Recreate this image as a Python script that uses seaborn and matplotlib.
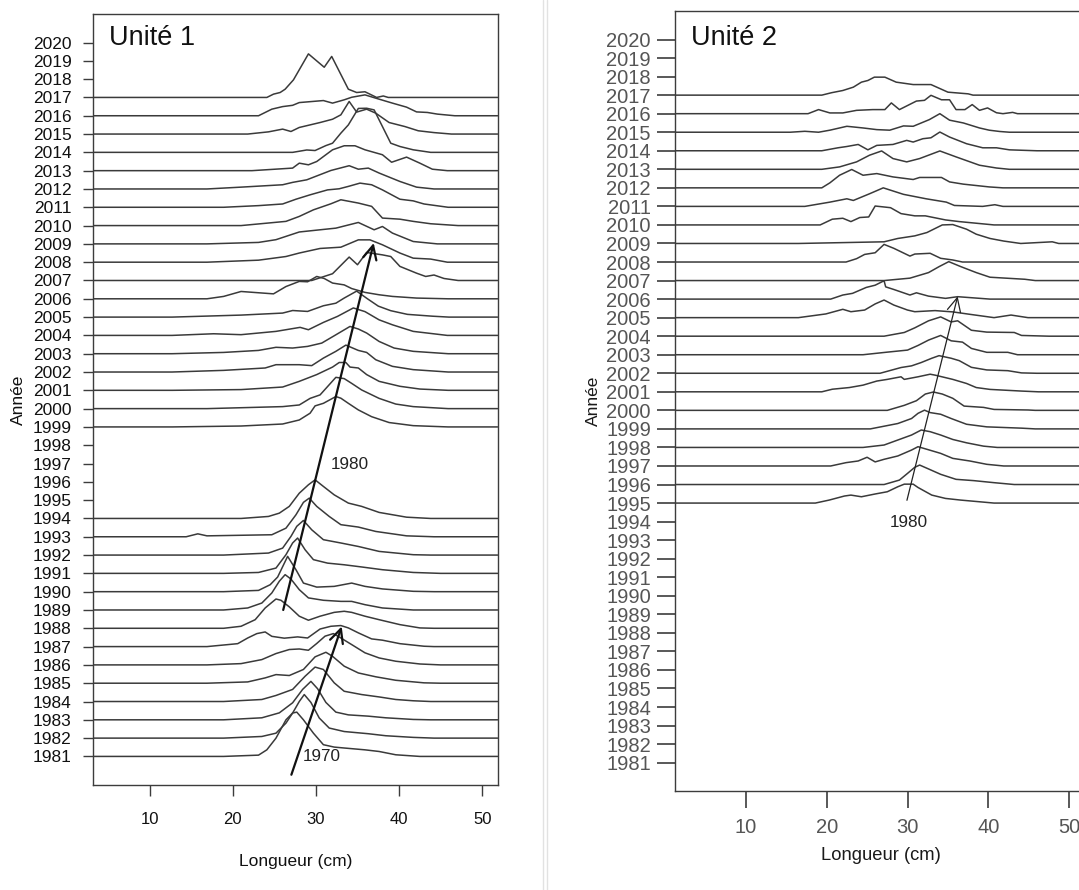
import pandas as pd
import seaborn as sns
import matplotlib.pyplot as plt
from matplotlib.lines import Line2D

# Years with a length distribution
ANNEES_U1 = list(range(1981, 1995)) + list(range(1999, 2018))
ANNEES_U2 = list(range(1995, 2018))
ANNEES_AXE = list(range(1981, 2021))
LONGUEURS_TICKS = [10, 20, 30, 40, 50]

# Unité 1 curves: (longueur cm, hauteur in year units)
U1_1981 = [(18.9, 0), (23.1, 0.07), (24.1, 0.36), (25.2, 1.0), (26.4, 2.0), (27.2, 2.37), (27.7, 2.42), (28.5, 2.0), (29.7, 1.27), (30.9, 0.64), (32.2, 0.51), (33.4, 0.46), (35.9, 0.36), (37.6, 0.27), (39.6, 0.09), (42.5, 0)]
U1_1982 = [(18.9, 0), (23.5, 0.09), (25.2, 0.27), (26.4, 0.82), (27.2, 1.37), (28.0, 2.0), (28.6, 2.38), (29.4, 1.95), (30.4, 1.1), (31.6, 0.55), (33.4, 0.36), (36.3, 0.24), (38.4, 0.13), (41.7, 0.04), (44.2, 0)]
U1_1983 = [(18.9, 0), (23.5, 0.11), (25.6, 0.38), (27.2, 0.93), (28.4, 1.66), (29.4, 2.1), (30.2, 1.7), (31.2, 0.95), (32.4, 0.42), (33.9, 0.27), (36.3, 0.2), (38.4, 0.11), (41.7, 0.02), (43.8, 0)]
U1_1984 = [(18.9, 0), (23.5, 0.11), (25.2, 0.33), (27.2, 0.66), (28.7, 1.38), (29.9, 1.88), (30.9, 1.75), (32.2, 1.02), (33.4, 0.56), (35.5, 0.38), (37.6, 0.25), (39.6, 0.11), (41.7, 0.04), (43.8, 0)]
U1_1985 = [(16.9, 0), (21.8, 0.07), (23.9, 0.29), (25.2, 0.47), (26.8, 0.42), (28.5, 0.75), (29.9, 1.44), (31.2, 1.69), (32.0, 1.47), (33.4, 0.93), (35.1, 0.56), (37.2, 0.35), (39.6, 0.16), (43.0, 0.02), (45.0, 0)]
U1_1986 = [(16.9, 0), (21.0, 0.07), (23.5, 0.29), (25.2, 0.62), (26.8, 0.84), (28.0, 0.87), (29.1, 0.8), (30.1, 1.17), (31.1, 1.57), (32.1, 1.71), (33.0, 1.47), (34.3, 1.11), (35.9, 0.66), (37.6, 0.38), (39.6, 0.2), (42.5, 0.05), (45.0, 0)]
U1_1987 = [(16.9, 0), (20.6, 0.16), (21.8, 0.47), (22.9, 0.71), (23.9, 0.8), (24.7, 0.56), (26.2, 0.46), (27.8, 0.53), (29.0, 0.47), (30.5, 0.96), (31.8, 1.11), (33.0, 1.15), (33.9, 1.02), (35.1, 0.75), (36.7, 0.42), (38.0, 0.35), (40.1, 0.16), (43.0, 0.02), (44.2, 0)]
U1_1988 = [(18.9, 0), (21.0, 0.11), (22.7, 0.47), (23.9, 1.11), (25.2, 1.6), (25.8, 1.53), (26.8, 1.17), (28.0, 0.66), (29.1, 0.44), (30.5, 0.66), (32.2, 0.87), (33.4, 0.93), (34.3, 0.87), (35.9, 0.66), (37.6, 0.47), (40.1, 0.2), (42.5, 0.02), (44.2, 0)]
U1_1989 = [(18.9, 0), (21.8, 0.11), (23.5, 0.38), (24.7, 0.93), (25.6, 1.57), (26.3, 1.93), (27.0, 1.69), (28.0, 1.11), (29.1, 0.66), (30.9, 0.53), (33.0, 0.47), (34.3, 0.47), (35.9, 0.29), (38.0, 0.11), (41.7, 0)]
U1_1990 = [(18.9, 0), (23.1, 0.07), (24.5, 0.38), (25.4, 0.8), (26.6, 1.93), (27.6, 1.2), (28.5, 0.47), (30.1, 0.25), (32.2, 0.29), (34.3, 0.47), (35.9, 0.29), (38.0, 0.15), (41.7, 0.02), (44.2, 0)]
U1_1991 = [(18.9, 0), (23.1, 0.05), (25.2, 0.29), (26.4, 1.02), (27.2, 1.66), (27.8, 1.93), (28.7, 1.29), (29.7, 0.75), (31.4, 0.56), (33.4, 0.47), (35.5, 0.35), (38.0, 0.2), (41.7, 0.05), (45.0, 0)]
U1_1992 = [(18.9, 0), (24.3, 0.11), (26.0, 0.38), (27.0, 1.02), (27.7, 1.57), (28.5, 1.89), (29.5, 1.38), (30.9, 0.84), (33.0, 0.66), (35.1, 0.47), (37.6, 0.2), (41.7, 0.02), (43.8, 0)]
U1_1993 = [(14.4, 0), (15.8, 0.16), (16.9, 0.05), (24.7, 0.11), (26.4, 0.47), (27.6, 1.2), (28.5, 1.88), (29.2, 2.11), (30.1, 1.66), (31.6, 1.11), (33.0, 0.66), (35.1, 0.53), (37.2, 0.29), (40.9, 0.05), (44.2, 0)]
U1_1994 = [(21.0, 0), (24.3, 0.11), (25.6, 0.29), (26.8, 0.66), (28.0, 1.38), (29.1, 1.84), (29.9, 2.11), (30.9, 1.75), (32.2, 1.29), (33.9, 0.84), (35.5, 0.66), (37.6, 0.33), (40.9, 0.07), (43.8, 0)]
U1_1999 = [(12.7, 0), (21.0, 0.05), (26.0, 0.16), (28.0, 0.38), (29.3, 0.75), (29.9, 1.15), (30.9, 1.29), (32.4, 1.66), (33.0, 1.57), (33.9, 1.29), (35.1, 0.93), (36.7, 0.56), (38.8, 0.24), (41.7, 0.07), (45.9, 0)]
U1_2000 = [(16.9, 0), (26.0, 0.11), (28.0, 0.2), (29.3, 0.56), (30.5, 0.75), (32.4, 1.71), (33.4, 1.64), (34.3, 1.38), (35.5, 1.02), (37.6, 0.56), (39.6, 0.25), (41.7, 0.11), (45.9, 0)]
U1_2001 = [(12.7, 0), (21.0, 0.04), (26.0, 0.18), (28.0, 0.49), (30.1, 0.86), (32.0, 1.27), (32.8, 1.52), (33.6, 1.52), (34.1, 1.27), (35.1, 1.22), (36.1, 0.86), (37.6, 0.49), (40.1, 0.22), (42.5, 0.07), (45.9, 0)]
U1_2002 = [(12.7, 0), (18.9, 0.09), (23.9, 0.22), (25.2, 0.4), (28.0, 0.4), (29.5, 0.35), (30.9, 0.76), (32.4, 1.13), (33.6, 1.47), (35.1, 1.18), (36.1, 1.07), (37.2, 0.67), (39.2, 0.31), (41.7, 0.13), (45.9, 0)]
U1_2003 = [(12.7, 0), (18.9, 0.07), (23.1, 0.18), (25.2, 0.35), (27.2, 0.31), (29.0, 0.4), (30.7, 0.58), (32.2, 0.98), (34.1, 1.49), (35.1, 1.35), (36.1, 1.13), (37.6, 0.67), (39.4, 0.31), (41.7, 0.13), (45.9, 0)]
U1_2004 = [(12.7, 0), (17.7, 0.09), (21.0, 0.04), (25.2, 0.22), (28.1, 0.44), (29.1, 0.31), (30.9, 0.71), (32.6, 1.04), (34.5, 1.5), (35.9, 1.3), (37.6, 0.85), (39.2, 0.58), (41.7, 0.22), (45.8, 0)]
U1_2005 = [(12.7, 0), (21.0, 0.11), (26.0, 0.22), (27.2, 0.36), (29.0, 0.31), (30.9, 0.62), (32.4, 0.76), (33.4, 1.04), (34.9, 1.42), (36.2, 1.0), (37.5, 0.6), (39.0, 0.35), (41.0, 0.15), (44.0, 0.05), (46.0, 0)]
U1_2006 = [(16.9, 0), (18.9, 0.13), (21.0, 0.4), (24.9, 0.27), (26.4, 0.67), (28.0, 0.95), (29.0, 0.93), (30.1, 1.22), (31.0, 1.11), (32.0, 0.86), (33.4, 0.76), (34.3, 0.56), (35.9, 0.35), (37.6, 0.22), (39.2, 0.13), (42.1, 0.04), (45.9, 0)]
U1_2007 = [(29.5, 0), (32.0, 0.37), (34.0, 1.28), (35.0, 0.86), (36.1, 1.53), (38.0, 1.4), (39.0, 1.31), (40.1, 0.77), (42.1, 0.4), (43.2, 0.22), (44.2, 0.3), (45.4, 0.11), (47.1, 0)]
U1_2008 = [(16.9, 0), (23.1, 0.11), (26.4, 0.31), (28.0, 0.5), (30.5, 0.75), (33.0, 0.82), (35.1, 1.22), (36.5, 1.22), (38.0, 0.95), (40.1, 0.5), (41.7, 0.22), (43.8, 0.17), (45.8, 0)]
U1_2009 = [(16.9, 0), (23.1, 0.08), (25.2, 0.23), (26.4, 0.41), (28.0, 0.65), (30.5, 0.77), (32.4, 0.86), (35.1, 1.17), (37.0, 0.77), (38.0, 0.95), (39.2, 0.59), (41.7, 0.13), (44.6, 0)]
U1_2010 = [(21.0, 0), (26.4, 0.23), (28.0, 0.5), (29.7, 0.86), (31.8, 1.19), (33.0, 1.41), (35.1, 1.23), (36.7, 1.05), (38.0, 0.41), (40.1, 0.35), (41.7, 0.23), (43.8, 0.1), (47.1, 0)]
U1_2011 = [(18.9, 0), (23.1, 0.09), (26.0, 0.18), (27.6, 0.44), (29.3, 0.68), (31.4, 0.95), (32.8, 1.01), (33.9, 1.14), (35.3, 1.32), (36.7, 1.23), (38.0, 0.95), (40.1, 0.44), (41.7, 0.35), (43.0, 0.18), (45.9, 0)]
U1_2012 = [(16.9, 0), (21.0, 0.1), (26.0, 0.23), (27.2, 0.36), (28.9, 0.5), (31.8, 1.01), (34.0, 1.27), (35.1, 1.08), (36.3, 1.14), (37.6, 0.87), (40.1, 0.41), (42.1, 0.1), (44.2, 0)]
U1_2013 = [(22.3, 0), (27.2, 0.14), (28.0, 0.41), (29.1, 0.32), (30.1, 0.5), (32.0, 1.14), (33.4, 1.36), (34.7, 1.36), (35.9, 1.14), (38.0, 0.87), (39.1, 0.46), (40.9, 0.74), (42.5, 0.41), (44.0, 0.08), (45.8, 0)]
U1_2014 = [(27.2, 0), (28.9, 0.13), (29.9, 0.1), (31.2, 0.37), (32.0, 0.5), (33.0, 1.05), (33.9, 1.5), (35.1, 2.4), (36.1, 2.41), (37.0, 2.32), (39.0, 0.5), (40.1, 0.32), (41.7, 0.14), (43.8, 0)]
U1_2015 = [(21.8, 0), (24.3, 0.12), (26.0, 0.27), (27.0, 0.14), (28.0, 0.36), (30.5, 0.63), (32.0, 0.81), (33.0, 1.05), (34.0, 1.78), (34.9, 1.2), (36.1, 1.36), (37.2, 1.14), (38.8, 0.63), (40.7, 0.41), (42.3, 0.18), (44.2, 0.08), (46.3, 0)]
U1_2016 = [(23.1, 0), (24.7, 0.36), (26.0, 0.5), (27.2, 0.57), (28.0, 0.72), (30.9, 0.83), (32.0, 0.69), (33.4, 0.87), (34.3, 1.01), (35.9, 1.14), (37.2, 0.96), (39.2, 0.69), (40.9, 0.47), (42.1, 0.21), (43.4, 0.18), (44.6, 0.09), (46.7, 0)]
U1_2017 = [(24.1, 0), (24.9, 0.18), (25.7, 0.27), (26.3, 0.45), (27.3, 0.96), (29.1, 2.38), (31.0, 1.65), (31.9, 2.24), (33.9, 0.45), (34.9, 0.27), (35.9, 0.31), (37.3, 0), (38.1, 0.08), (38.7, 0)]

# Unité 2 curves
U2_1995 = [(18.6, 0), (20.3, 0.16), (22.2, 0.38), (23.0, 0.43), (24.3, 0.34), (26.0, 0.49), (27.5, 0.61), (28.8, 0.88), (29.6, 1.02), (30.7, 1.02), (31.3, 0.84), (33.0, 0.43), (34.7, 0.25), (36.6, 0.16), (40.7, 0)]
U2_1996 = [(27.1, 0), (29.0, 0.24), (30.0, 0.6), (30.9, 0.93), (31.5, 1.05), (32.6, 0.84), (34.1, 0.55), (36.0, 0.28), (38.2, 0.21), (40.7, 0.1), (43.2, 0)]
U2_1997 = [(20.5, 0), (22.4, 0.18), (23.9, 0.27), (25.0, 0.47), (26.0, 0.22), (27.1, 0.36), (28.8, 0.54), (30.5, 0.86), (31.3, 1.04), (32.4, 0.9), (34.1, 0.68), (35.6, 0.41), (37.7, 0.27), (39.8, 0.09), (41.9, 0)]
U2_1998 = [(24.5, 0), (27.1, 0.13), (28.8, 0.4), (30.5, 0.67), (31.7, 0.94), (32.8, 0.85), (34.1, 0.67), (35.6, 0.43), (37.3, 0.25), (39.4, 0.07), (41.1, 0)]
U2_1999 = [(25.4, 0), (28.8, 0.29), (30.5, 0.56), (31.3, 0.84), (32.1, 1.01), (32.8, 0.88), (34.1, 0.79), (35.4, 0.56), (37.3, 0.25), (39.8, 0.11), (44.1, 0.04), (45.8, 0)]
U2_2000 = [(27.5, 0), (29.6, 0.27), (31.1, 0.52), (32.2, 0.88), (33.2, 0.99), (34.3, 0.88), (35.6, 0.65), (37.0, 0.23), (39.4, 0.16), (40.7, 0.05), (44.9, 0.02), (45.8, 0)]
U2_2001 = [(19.4, 0), (20.7, 0.14), (22.8, 0.23), (24.5, 0.36), (26.2, 0.58), (27.5, 0.67), (29.2, 0.81), (29.6, 0.67), (31.3, 0.81), (32.8, 0.95), (33.4, 0.9), (35.6, 0.67), (37.3, 0.45), (38.5, 0.23), (40.2, 0.13), (44.1, 0.04), (46.2, 0)]
U2_2002 = [(26.6, 0), (29.2, 0.31), (30.5, 0.4), (31.7, 0.58), (33.0, 0.81), (33.9, 0.95), (35.4, 0.81), (36.4, 0.68), (37.9, 0.32), (39.8, 0.18), (42.4, 0.14), (44.1, 0.02), (46.0, 0)]
U2_2003 = [(24.5, 0), (27.5, 0.14), (30.0, 0.25), (31.3, 0.5), (32.6, 0.79), (34.1, 1.04), (35.4, 0.75), (36.8, 0.68), (37.9, 0.34), (39.8, 0.13), (42.4, 0.13), (43.6, 0)]
U2_2004 = [(27.1, 0), (29.6, 0.2), (30.9, 0.45), (32.6, 0.83), (34.1, 1.04), (35.4, 0.77), (36.2, 0.83), (37.9, 0.32), (39.8, 0.22), (43.2, 0.2), (44.1, 0.04), (47.5, 0)]
U2_2005 = [(16.5, 0), (19.9, 0.2), (22.0, 0.45), (23.0, 0.32), (24.7, 0.41), (26.0, 0.74), (27.1, 0.95), (28.3, 0.68), (30.0, 0.41), (30.9, 0.32), (33.4, 0.38), (35.6, 0.31), (37.7, 0.18), (40.7, 0), (42.8, 0.14), (44.9, 0)]
U2_2006 = [(20.5, 0), (22.0, 0.22), (23.2, 0.31), (24.9, 0.63), (26.0, 0.75), (27.1, 0.99), (27.3, 0.66), (28.3, 0.52), (30.3, 0.22), (31.1, 0.34), (32.6, 0.16), (34.7, 0.04), (36.2, 0.13), (40.2, 0)]
U2_2007 = [(27.1, 0), (30.3, 0.13), (32.6, 0.43), (33.9, 0.75), (35.1, 1.02), (36.6, 0.75), (38.5, 0.43), (40.2, 0.18), (44.5, 0.07), (45.8, 0)]
U2_2008 = [(22.4, 0), (23.7, 0.18), (24.7, 0.41), (26.0, 0.5), (27.1, 0.95), (28.3, 0.74), (30.3, 0.32), (30.9, 0.43), (32.8, 0.47), (34.1, 0.2), (35.6, 0.11), (36.8, 0)]
U2_2009 = [(16.5, 0), (27.1, 0.09), (28.8, 0.27), (30.9, 0.41), (32.4, 0.59), (34.3, 1.0), (35.6, 1.02), (37.3, 0.77), (38.5, 0.5), (40.2, 0.27), (41.9, 0.13), (44.0, 0), (47.9, 0.09), (48.7, 0)]
U2_2010 = [(19.2, 0), (20.7, 0.31), (22.0, 0.36), (23.0, 0.18), (24.1, 0.4), (25.2, 0.43), (26.0, 1.02), (27.9, 0.93), (29.2, 0.61), (30.9, 0.49), (32.2, 0.49), (34.7, 0.27), (36.4, 0.18), (40.7, 0)]
U2_2011 = [(17.3, 0), (20.4, 0.23), (22.5, 0.41), (23.3, 0.32), (25.3, 0.68), (27.0, 1.0), (29.5, 0.65), (32.3, 0.41), (34.8, 0.23), (35.8, 0.05), (39.3, 0), (40.8, 0.09), (41.8, 0)]
U2_2012 = [(19.4, 0), (20.4, 0.27), (21.6, 0.68), (23.1, 0.99), (24.5, 0.68), (26.2, 0.77), (28.2, 0.59), (30.7, 0.45), (31.5, 0.56), (34.2, 0.56), (35.2, 0.32), (36.9, 0.2), (40.1, 0.05), (41.8, 0)]
U2_2013 = [(19.4, 0), (21.6, 0.13), (23.7, 0.4), (25.3, 0.76), (26.8, 0.99), (28.2, 0.58), (29.9, 0.4), (31.5, 0.58), (34.0, 0.99), (36.0, 0.67), (38.9, 0.22), (41.0, 0.07), (42.6, 0)]
U2_2014 = [(19.4, 0), (21.4, 0.16), (22.5, 0.23), (23.9, 0.34), (25.1, 0.05), (26.2, 0.29), (28.2, 0.34), (29.9, 0.56), (30.7, 0.47), (31.9, 0.65), (32.9, 0.7), (34.0, 1.01), (35.2, 0.74), (37.3, 0.38), (39.3, 0.16), (41.0, 0.16), (42.6, 0.05), (46.0, 0)]
U2_2015 = [(15.5, 0), (17.3, 0.05), (19.0, 0), (20.4, 0.11), (22.5, 0.32), (24.5, 0.23), (26.2, 0.14), (27.8, 0.11), (29.5, 0.34), (30.7, 0.32), (32.7, 0.68), (34.0, 1.0), (35.2, 0.65), (36.9, 0.5), (38.9, 0.23), (40.1, 0.11), (41.4, 0.04), (42.6, 0)]
U2_2016 = [(16.3, 0), (17.7, 0), (19.0, 0.22), (20.4, 0.04), (22.0, 0.04), (23.7, 0.18), (25.7, 0.22), (27.2, 0.22), (28.0, 0.58), (29.0, 0.22), (31.1, 0.68), (32.1, 0.72), (32.9, 0.99), (34.2, 0.75), (35.2, 0.75), (36.0, 0.22), (37.1, 0.22), (38.0, 0.49), (38.9, 0.18), (39.9, 0.31), (41.0, 0.05), (41.8, 0), (43.0, 0.07), (43.6, 0)]
U2_2017 = [(19.4, 0), (20.6, 0.13), (22.0, 0.25), (23.3, 0.43), (24.3, 0.7), (25.1, 0.79), (25.9, 0.97), (27.2, 0.97), (28.6, 0.7), (30.7, 0.57), (32.9, 0.57), (35.0, 0.16), (37.5, 0.07), (38.1, 0)]

COURBES_U1 = [U1_1981, U1_1982, U1_1983, U1_1984, U1_1985, U1_1986, U1_1987,
              U1_1988, U1_1989, U1_1990, U1_1991, U1_1992, U1_1993, U1_1994,
              U1_1999, U1_2000, U1_2001, U1_2002, U1_2003, U1_2004, U1_2005,
              U1_2006, U1_2007, U1_2008, U1_2009, U1_2010, U1_2011, U1_2012,
              U1_2013, U1_2014, U1_2015, U1_2016, U1_2017]
COURBES_U2 = [U2_1995, U2_1996, U2_1997, U2_1998, U2_1999, U2_2000, U2_2001,
              U2_2002, U2_2003, U2_2004, U2_2005, U2_2006, U2_2007, U2_2008,
              U2_2009, U2_2010, U2_2011, U2_2012, U2_2013, U2_2014, U2_2015,
              U2_2016, U2_2017]

sns.set_theme(style="white")
plt.rcParams["font.family"] = ["Liberation Sans", "DejaVu Sans"]

LIGNE = "#3a3a3a"


def tableau(annees, courbes, xlim):
    rows = []
    for annee, pts in zip(annees, courbes):
        xs = [xlim[0]] + [p[0] for p in pts] + [xlim[1]]
        hs = [0] + [p[1] for p in pts] + [0]
        for x, h in zip(xs, hs):
            rows.append({"Longueur": x, "niveau": annee + h, "Année": annee})
    return pd.DataFrame(rows)


def trace_unite(ax, annees, courbes, xlim, ylim):
    df = tableau(annees, courbes, xlim)
    sns.lineplot(data=df, x="Longueur", y="niveau", units="Année",
                 estimator=None, sort=False, color=LIGNE, lw=1.1,
                 legend=False, ax=ax)
    ax.set_xlim(*xlim)
    ax.set_ylim(*ylim)
    ax.set_xticks(LONGUEURS_TICKS)
    ax.set_yticks(ANNEES_AXE)
    ax.set_yticklabels([str(a) for a in ANNEES_AXE])
    for s in ax.spines.values():
        s.set_visible(True)
        s.set_color("#3c3c3c")
        s.set_linewidth(1.0)


fig = plt.figure(figsize=(10.79, 8.90), dpi=100)
fig.patch.set_facecolor("white")

# ---- Unité 1
ax1 = fig.add_axes([0.0862, 0.118, 0.375, 0.8663])
trace_unite(ax1, ANNEES_U1, COURBES_U1, (3.2, 51.85), (1979.44, 2021.56))
ax1.tick_params(axis="y", direction="out", length=7.5, width=1.0, pad=7.9,
                labelsize=12.5, color="#3c3c3c", labelcolor="#111111", left=True)
ax1.tick_params(axis="x", direction="out", length=8, width=1.0, pad=11.5,
                labelsize=12, color="#3c3c3c", labelcolor="#111111", bottom=True)
ax1.set_xlabel("Longueur (cm)", fontsize=12.5, color="#111111")
ax1.set_ylabel("Année", fontsize=12.5, color="#111111")
ax1.xaxis.label.set_va("center")
ax1.yaxis.label.set_va("center")
ax1.xaxis.set_label_coords(0.5, -0.0995)
ax1.yaxis.set_label_coords(-0.183, 0.5)
ax1.text(0.039, 0.9685, "Unité 1", transform=ax1.transAxes, ha="left",
         va="center", fontsize=19.5, color="#111111")

fleche = dict(arrowstyle="->,head_length=0.45,head_width=0.22", lw=1.6,
              color="#111111", shrinkA=0, shrinkB=0, mutation_scale=22)
ax1.annotate("", xy=(33.1, 1988.1), xytext=(27.05, 1980.0), arrowprops=fleche)
ax1.annotate("", xy=(36.95, 2009.05), xytext=(26.07, 1989.0), arrowprops=fleche)
ax1.text(28.4, 1981.0, "1970", ha="left", va="center", fontsize=12.3, color="#222222")
ax1.text(34.05, 1996.95, "1980", ha="center", va="center", fontsize=12.3, color="#222222")

# ---- Unité 2
ax2 = fig.add_axes([0.6256, 0.1112, 0.3796, 0.8767])
trace_unite(ax2, ANNEES_U2, COURBES_U2, (1.25, 51.9), (1979.47, 2021.55))
gris = "#555555"
ax2.tick_params(axis="y", direction="out", length=13, width=1.2, pad=4.3,
                labelsize=14.5, color="#3c3c3c", labelcolor=gris, left=True)
ax2.tick_params(axis="x", direction="out", length=12.5, width=1.2, pad=7.2,
                labelsize=14.5, color="#3c3c3c", labelcolor=gris, bottom=True)
for lab in ax2.get_yticklabels() + ax2.get_xticklabels():
    lab.set_family(["Liberation Sans Narrow", "Liberation Sans", "DejaVu Sans"])
ax2.set_xlabel("Longueur (cm)", fontsize=13.2, color="#1a1a1a")
ax2.set_ylabel("Année", fontsize=12.5, color="#1a1a1a")
ax2.xaxis.label.set_va("center")
ax2.yaxis.label.set_va("center")
ax2.xaxis.set_label_coords(0.503, -0.082)
ax2.yaxis.set_label_coords(-0.199, 0.5)
ax2.text(0.040, 0.9646, "Unité 2", transform=ax2.transAxes, ha="left",
         va="center", fontsize=19.5, color="#111111")
fleche2 = dict(arrowstyle="->,head_length=0.45,head_width=0.22", lw=0.9,
               color="#222222", shrinkA=0, shrinkB=0, mutation_scale=22)
ax2.annotate("", xy=(36.2, 2006.15), xytext=(29.93, 1995.15), arrowprops=fleche2)
ax2.text(30.15, 1993.95, "1980", ha="center", va="center", fontsize=12.3, color="#222222")

# separator between the two pictures
for xp in (542.7, 547.3):
    fig.add_artist(Line2D([xp / 1079, xp / 1079], [0, 1], color="#e2e2e2", lw=1.0))

fig.savefig("out.png", dpi=100, facecolor="white")
